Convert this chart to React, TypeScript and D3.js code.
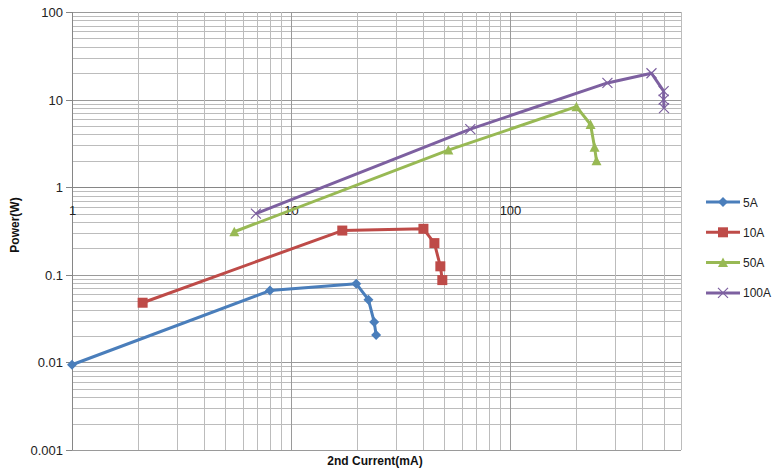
import React, { useEffect, useRef } from 'react';
import * as d3 from 'd3';

interface Pt { x: number; y: number; }
interface Series { name: string; color: string; marker: 'diamond' | 'square' | 'triangle' | 'x'; points: Pt[]; }

// values (mA, W)
const s5A: Pt[] = [
  { x: 1, y: 0.0094 }, { x: 8.0, y: 0.066 }, { x: 19.8, y: 0.079 },
  { x: 22.5, y: 0.052 }, { x: 23.9, y: 0.029 }, { x: 24.4, y: 0.0205 },
];
const s10A: Pt[] = [
  { x: 2.1, y: 0.048 }, { x: 17.1, y: 0.32 }, { x: 40.1, y: 0.335 },
  { x: 45, y: 0.23 }, { x: 47.9, y: 0.125 }, { x: 48.9, y: 0.087 },
];
const s50A: Pt[] = [
  { x: 5.5, y: 0.31 }, { x: 52.1, y: 2.65 }, { x: 200, y: 8.3 },
  { x: 232, y: 5.2 }, { x: 242, y: 2.85 }, { x: 247, y: 2.0 },
];
const s100A: Pt[] = [
  { x: 6.9, y: 0.5 }, { x: 65.6, y: 4.6 }, { x: 277, y: 15.5 },
  { x: 440, y: 20 }, { x: 500, y: 12.5 }, { x: 500, y: 10 }, { x: 502, y: 8.0 },
];

const seriesList: Series[] = [
  { name: '5A', color: '#4a7ebb', marker: 'diamond', points: s5A },
  { name: '10A', color: '#be4b48', marker: 'square', points: s10A },
  { name: '50A', color: '#98b954', marker: 'triangle', points: s50A },
  { name: '100A', color: '#7d60a0', marker: 'x', points: s100A },
];

const xTicks = [1, 10, 100];
const yTicks = [0.001, 0.01, 0.1, 1, 10, 100];

const W = 777, H = 474;
const FONT = '"Liberation Sans", Arial, sans-serif';

function drawMarker(g: d3.Selection<SVGGElement, unknown, null, undefined>, kind: Series['marker'], cx: number, cy: number, color: string) {
  if (kind === 'diamond') {
    g.append('path').attr('d', `M${cx},${cy - 5}L${cx + 5},${cy}L${cx},${cy + 5}L${cx - 5},${cy}Z`).attr('fill', color);
  } else if (kind === 'square') {
    g.append('rect').attr('x', cx - 5).attr('y', cy - 5).attr('width', 10).attr('height', 10).attr('fill', color);
  } else if (kind === 'triangle') {
    g.append('path').attr('d', `M${cx},${cy - 5}L${cx + 5},${cy + 4.5}L${cx - 5},${cy + 4.5}Z`).attr('fill', color);
  } else {
    g.append('path').attr('d', `M${cx - 5},${cy - 5}L${cx + 5},${cy + 5}M${cx + 5},${cy - 5}L${cx - 5},${cy + 5}`)
      .attr('stroke', color).attr('stroke-width', 1.2).attr('fill', 'none');
  }
}

const App: React.FC = () => {
  const ref = useRef<SVGSVGElement>(null);

  useEffect(() => {
    const svg = d3.select(ref.current);
    svg.selectAll('*').remove();

    const left = 72, right = 681, top = 12, bottom = 450;
    const x = d3.scaleLog().domain([1, 600]).range([left, right]);
    const y = d3.scaleLog().domain([0.001, 100]).range([bottom, top]);

    svg.append('rect').attr('width', W).attr('height', H).attr('fill', '#fff');

    // grid (decade lines a bit darker)
    const grid = svg.append('g');
    const xGrid: number[] = [];
    for (let d = 1; d <= 100; d *= 10) for (let k = 1; k <= 9; k++) if (d * k <= 600) xGrid.push(d * k);
    const yGrid: number[] = [];
    for (let d = 0.001; d < 100; d *= 10) for (let k = 1; k <= 9; k++) yGrid.push(+(d * k).toPrecision(3));
    yGrid.push(100);
    const isDecade = (v: number) => Math.abs(Math.log10(v) - Math.round(Math.log10(v))) < 1e-6;

    grid.selectAll('line.h').data(yGrid).enter().append('line')
      .attr('x1', left).attr('x2', right)
      .attr('y1', d => Math.round(y(d)) + 0.5).attr('y2', d => Math.round(y(d)) + 0.5)
      .attr('stroke', d => isDecade(d) ? '#9a9a9a' : '#bcbcbc').attr('stroke-width', 1);
    grid.selectAll('line.v').data(xGrid).enter().append('line')
      .attr('y1', top).attr('y2', bottom)
      .attr('x1', d => Math.round(x(d)) + 0.5).attr('x2', d => Math.round(x(d)) + 0.5)
      .attr('stroke', d => isDecade(d) ? '#9a9a9a' : '#bcbcbc').attr('stroke-width', 1);
    grid.append('line').attr('x1', right + 0.5).attr('x2', right + 0.5).attr('y1', top).attr('y2', bottom)
      .attr('stroke', '#bcbcbc');

    // y axis
    const yAxis = svg.append('g');
    yAxis.append('line').attr('x1', left + 0.5).attr('x2', left + 0.5).attr('y1', top).attr('y2', bottom)
      .attr('stroke', '#868686');
    yTicks.forEach(t => {
      const py = Math.round(y(t)) + 0.5;
      yAxis.append('line').attr('x1', left - 6).attr('x2', left).attr('y1', py).attr('y2', py).attr('stroke', '#868686');
      yAxis.append('text').attr('x', left - 9).attr('y', py + 4.5).attr('text-anchor', 'end')
        .style('font-family', FONT).style('font-size', '13px').attr('fill', '#222')
        .text(d3.format('~g')(t));
    });

    // x axis crosses at y = 1
    const y1 = Math.round(y(1)) + 0.5;
    const xAxis = svg.append('g');
    xAxis.append('line').attr('x1', left).attr('x2', right).attr('y1', y1).attr('y2', y1).attr('stroke', '#868686');
    xTicks.forEach(t => {
      const px = Math.round(x(t)) + 0.5;
      xAxis.append('line').attr('x1', px).attr('x2', px).attr('y1', y1).attr('y2', y1 + 6).attr('stroke', '#868686');
      xAxis.append('text').attr('x', px).attr('y', y1 + 27).attr('text-anchor', 'middle')
        .style('font-family', FONT).style('font-size', '13px').attr('fill', '#222')
        .text(String(t));
    });

    // series
    const line = d3.line<Pt>().x(d => x(d.x)).y(d => y(d.y));
    seriesList.forEach(s => {
      svg.append('path').datum(s.points).attr('d', line)
        .attr('fill', 'none').attr('stroke', s.color).attr('stroke-width', 3)
        .attr('stroke-linejoin', 'round');
      const mg = svg.append('g');
      s.points.forEach(p => drawMarker(mg, s.marker, x(p.x), y(p.y), s.color));
    });

    // axis titles
    svg.append('text').attr('x', 375).attr('y', 465).attr('text-anchor', 'middle')
      .style('font-family', FONT).style('font-size', '12px').style('font-weight', 'bold').attr('fill', '#111')
      .text('2nd Current(mA)');
    svg.append('text').attr('transform', 'translate(19,225) rotate(-90)').attr('text-anchor', 'middle')
      .style('font-family', FONT).style('font-size', '12px').style('font-weight', 'bold').attr('fill', '#111')
      .text('Power(W)');

    // legend
    const legend = svg.append('g');
    seriesList.forEach((s, i) => {
      const ly = 202 + i * 30.3;
      legend.append('line').attr('x1', 706).attr('x2', 740).attr('y1', ly).attr('y2', ly)
        .attr('stroke', s.color).attr('stroke-width', 3);
      drawMarker(legend, s.marker, 723, ly, s.color);
      legend.append('text').attr('x', 743).attr('y', ly + 4.5)
        .style('font-family', FONT).style('font-size', '12px').attr('fill', '#222')
        .text(s.name);
    });
  }, []);

  return <svg ref={ref} width={W} height={H} style={{ position: 'absolute', left: 0, top: 0 }} />;
};

export default App;
